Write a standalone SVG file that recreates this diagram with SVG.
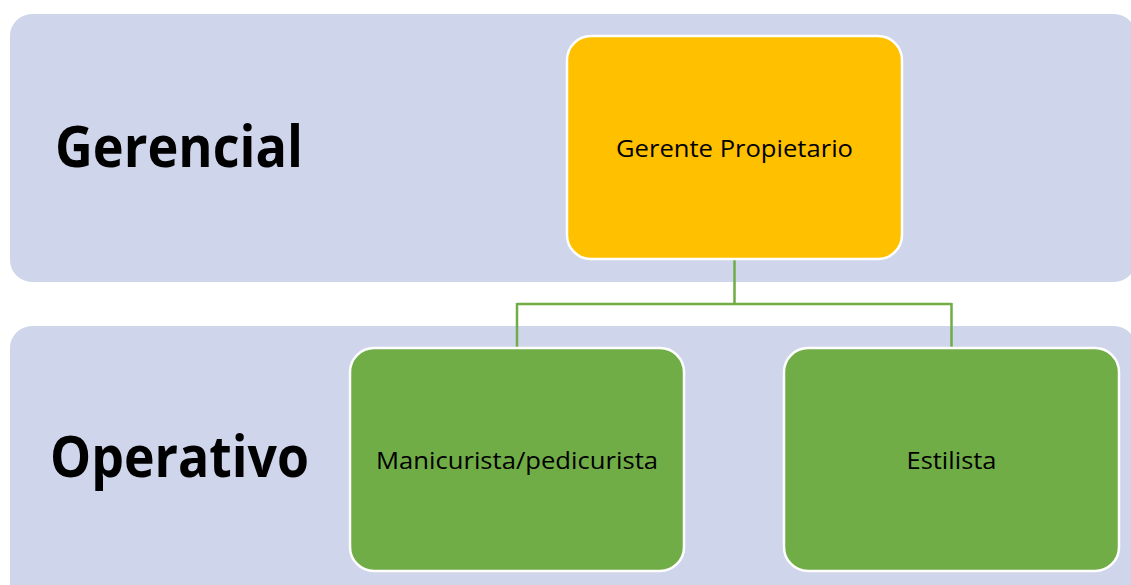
<svg xmlns="http://www.w3.org/2000/svg" width="1131" height="585" viewBox="0 0 1131 585">
<style>
.band{fill:#CFD5EA}
.lvl{font-family:"Open Sans","Liberation Sans",sans-serif;font-weight:bold;font-size:57px;fill:#000}
.box{stroke:#FFFFFF;stroke-width:2.5}
.lbl{font-family:"Open Sans","Liberation Sans",sans-serif;font-size:23px;fill:#000;text-anchor:middle}
.con{fill:none;stroke:#70AD47;stroke-width:2.5}
</style>
<g id="band-gerencial">
<rect class="band" x="10" y="14" width="1126" height="268" rx="22"/>
<text class="lvl" x="55" y="167" textLength="248" lengthAdjust="spacingAndGlyphs">Gerencial</text>
</g>
<g id="band-operativo">
<rect class="band" x="10" y="326" width="1126" height="300" rx="22"/>
<text class="lvl" x="50" y="477" textLength="259" lengthAdjust="spacingAndGlyphs">Operativo</text>
</g>
<g id="connectors">
<path class="con" d="M734.5 259 V304 M517 304 H951.5 M517 303 V348 M951.5 303 V348"/>
</g>
<g id="node-gerente">
<rect class="box" x="567" y="36" width="335" height="223" rx="24" fill="#FFC000"/>
<text class="lbl" x="734.5" y="157" textLength="237" lengthAdjust="spacingAndGlyphs">Gerente Propietario</text>
</g>
<g id="node-manicurista">
<rect class="box" x="350" y="348" width="334" height="223" rx="24" fill="#70AD47"/>
<text class="lbl" x="517" y="469" textLength="282" lengthAdjust="spacingAndGlyphs">Manicurista/pedicurista</text>
</g>
<g id="node-estilista">
<rect class="box" x="784" y="348" width="335" height="223" rx="24" fill="#70AD47"/>
<text class="lbl" x="951.5" y="469" textLength="90" lengthAdjust="spacingAndGlyphs">Estilista</text>
</g>
</svg>
